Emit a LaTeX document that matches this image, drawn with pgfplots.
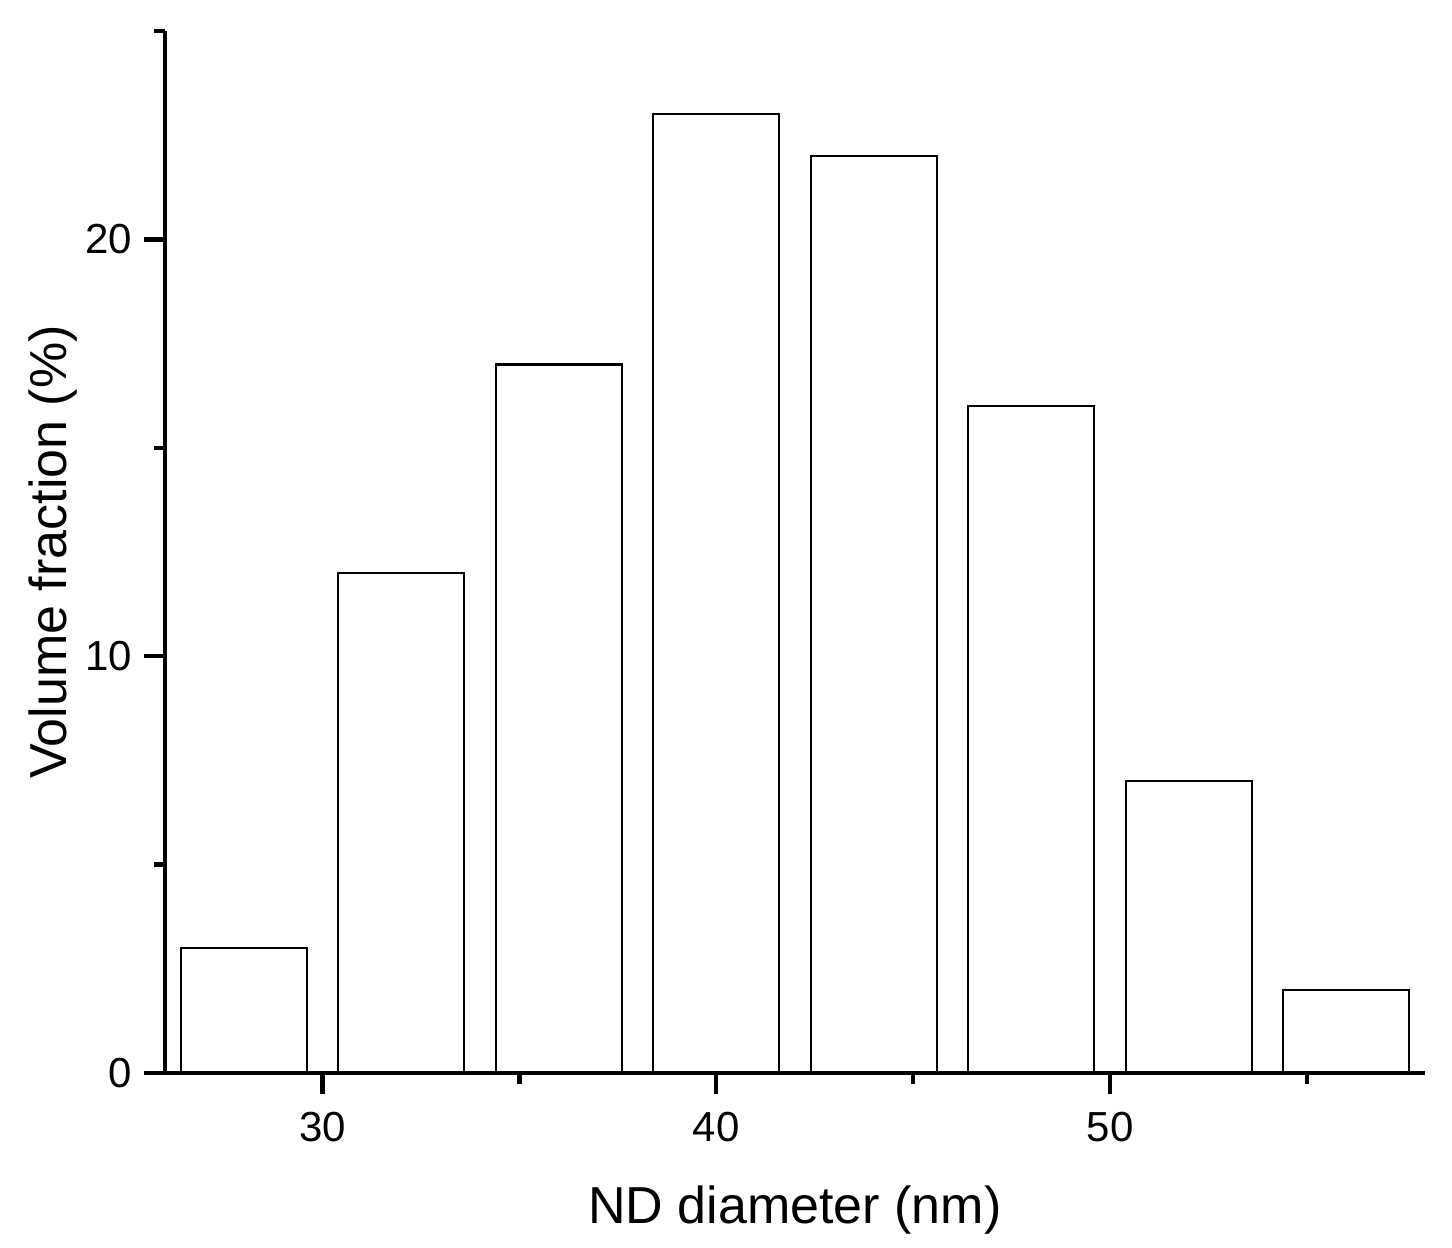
\documentclass[border=0pt]{standalone}
\usepackage{fontspec}
\setmainfont{Liberation Sans}
\usepackage{pgfplots}
\pgfplotsset{compat=1.18}

\begin{document}
\begin{tikzpicture}
  \begin{axis}[
    scale only axis,
    width=630pt, height=521pt,
    xmin=26, xmax=58, ymin=0, ymax=25,
    axis lines*=left,
    axis on top,
    axis line style={line width=2.4pt},
    tick align=outside,
    tick style={line width=2.2pt, black},
    major tick length=10.5pt,
    minor tick length=5.5pt,
    xtick={30,40,50}, minor xtick={35,45,55},
    ytick={0,10,20}, minor ytick={5,15,25},
    /pgf/number format/assume math mode=true,
    ticklabel style={font=\fontsize{21}{25}\selectfont},
    xticklabel style={yshift=-5.5pt},
    yticklabel style={xshift=-2.5pt},
    xlabel={ND diameter (nm)},
    ylabel={Volume fraction (\%)},
    label style={font=\fontsize{26}{31}\selectfont},
    xlabel style={at={(axis description cs:0.5,0)}, anchor=base, yshift=-75pt},
    ylabel style={at={(axis description cs:0,0.5)}, anchor=base, yshift=49pt},
    ybar, bar width=3.2, bar shift=0pt,
  ]
    \addplot [draw=black, fill=white, line width=1.1pt] coordinates {
      (28,3) (32,12) (36,17) (40,23) (44,22) (48,16) (52,7) (56,2)};
    \coordinate (sw) at (rel axis cs:0,0);
    \coordinate (ne) at (rel axis cs:1,1);
  \end{axis}
  \path ([shift={(-82.5pt,-87.5pt)}]sw) rectangle ([shift={(13.5pt,15.5pt)}]ne);
\end{tikzpicture}
\end{document}
